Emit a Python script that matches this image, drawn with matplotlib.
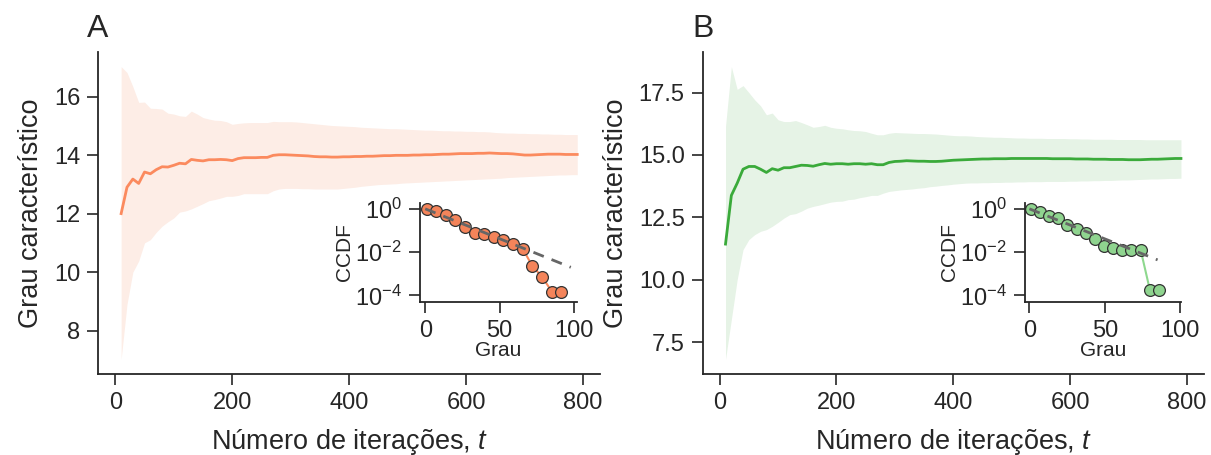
import matplotlib
matplotlib.use("Agg")
import matplotlib.pyplot as plt

plt.rcParams['font.family'] = ['Liberation Sans', 'DejaVu Sans']
plt.rcParams['mathtext.fontset'] = 'custom'
plt.rcParams['mathtext.rm'] = 'Liberation Sans'
plt.rcParams['mathtext.it'] = 'Liberation Sans:italic'
plt.rcParams['axes.unicode_minus'] = True

# iterations
t = list(range(10, 800, 10))

# panel A: mean and band
mean_a = [12.00, 12.90, 13.18, 13.03, 13.42, 13.36, 13.50, 13.60, 13.59, 13.65,
          13.72, 13.70, 13.85, 13.82, 13.80, 13.84, 13.84, 13.85, 13.84, 13.81,
          13.88, 13.91, 13.91, 13.91, 13.92, 13.92, 13.99, 14.01, 14.01, 14.00,
          13.99, 13.98, 13.97, 13.95, 13.94, 13.94, 13.93, 13.93, 13.94, 13.94,
          13.95, 13.95, 13.96, 13.96, 13.97, 13.98, 13.98, 13.99, 13.99, 13.99,
          14.00, 14.00, 14.01, 14.01, 14.02, 14.03, 14.03, 14.04, 14.05, 14.05,
          14.05, 14.06, 14.06, 14.07, 14.06, 14.05, 14.05, 14.04, 14.02, 14.00,
          14.00, 14.01, 14.02, 14.03, 14.03, 14.03, 14.02, 14.02, 14.02]
upper_a = [17.02, 16.82, 16.34, 15.80, 15.81, 15.60, 15.59, 15.57, 15.43, 15.40,
           15.34, 15.32, 15.50, 15.40, 15.28, 15.23, 15.19, 15.18, 15.14, 15.05,
           15.08, 15.10, 15.11, 15.11, 15.11, 15.11, 15.15, 15.14, 15.14, 15.14,
           15.13, 15.11, 15.09, 15.07, 15.05, 15.03, 15.01, 15.00, 14.99, 14.98,
           14.97, 14.95, 14.94, 14.93, 14.92, 14.91, 14.90, 14.90, 14.89, 14.88,
           14.87, 14.86, 14.85, 14.85, 14.84, 14.83, 14.83, 14.82, 14.82, 14.81,
           14.81, 14.80, 14.80, 14.79, 14.77, 14.76, 14.75, 14.75, 14.74, 14.74,
           14.73, 14.73, 14.72, 14.72, 14.71, 14.71, 14.70, 14.70, 14.70]
lower_a = [7.02, 8.90, 10.00, 10.38, 11.00, 11.11, 11.36, 11.57, 11.72, 11.85,
           12.05, 12.09, 12.16, 12.25, 12.34, 12.44, 12.48, 12.53, 12.59, 12.59,
           12.62, 12.68, 12.68, 12.68, 12.68, 12.68, 12.78, 12.84, 12.86, 12.86,
           12.86, 12.85, 12.85, 12.84, 12.84, 12.84, 12.84, 12.84, 12.86, 12.88,
           12.90, 12.93, 12.95, 12.97, 12.99, 13.00, 13.01, 13.02, 13.04, 13.05,
           13.06, 13.07, 13.08, 13.09, 13.10, 13.11, 13.12, 13.13, 13.14, 13.15,
           13.16, 13.17, 13.18, 13.19, 13.20, 13.21, 13.23, 13.24, 13.25, 13.26,
           13.27, 13.28, 13.29, 13.30, 13.31, 13.32, 13.32, 13.33, 13.33]

# panel B: mean and band
mean_b = [11.43, 13.38, 13.87, 14.43, 14.54, 14.54, 14.43, 14.30, 14.45, 14.39,
          14.49, 14.49, 14.54, 14.59, 14.58, 14.55, 14.61, 14.66, 14.63, 14.65,
          14.65, 14.63, 14.65, 14.65, 14.63, 14.65, 14.61, 14.61, 14.70, 14.74,
          14.75, 14.77, 14.76, 14.75, 14.75, 14.74, 14.74, 14.75, 14.77, 14.79,
          14.80, 14.81, 14.82, 14.83, 14.84, 14.84, 14.85, 14.85, 14.85, 14.86,
          14.86, 14.86, 14.86, 14.86, 14.86, 14.86, 14.85, 14.85, 14.85, 14.85,
          14.84, 14.84, 14.84, 14.83, 14.83, 14.83, 14.82, 14.82, 14.82, 14.81,
          14.81, 14.81, 14.82, 14.83, 14.83, 14.84, 14.85, 14.86, 14.86]
upper_b = [16.15, 18.54, 17.63, 17.78, 17.50, 17.21, 16.97, 16.61, 16.68, 16.41,
           16.34, 16.34, 16.38, 16.30, 16.21, 16.11, 16.14, 16.19, 16.11, 16.07,
           16.05, 16.01, 15.98, 15.97, 15.94, 15.87, 15.81, 15.81, 15.87, 15.90,
           15.89, 15.88, 15.87, 15.86, 15.86, 15.85, 15.84, 15.82, 15.80, 15.78,
           15.77, 15.77, 15.76, 15.74, 15.73, 15.72, 15.71, 15.71, 15.70, 15.69,
           15.68, 15.68, 15.67, 15.67, 15.67, 15.66, 15.66, 15.66, 15.66, 15.65,
           15.65, 15.64, 15.64, 15.63, 15.63, 15.63, 15.63, 15.62, 15.62, 15.62,
           15.62, 15.62, 15.61, 15.61, 15.61, 15.61, 15.61, 15.61, 15.61]
lower_b = [6.81, 8.41, 10.01, 11.21, 11.61, 11.81, 11.94, 12.01, 12.14, 12.30,
           12.47, 12.61, 12.65, 12.75, 12.87, 12.94, 12.99, 13.05, 13.11, 13.14,
           13.15, 13.21, 13.23, 13.29, 13.33, 13.38, 13.38, 13.47, 13.54, 13.57,
           13.60, 13.62, 13.64, 13.67, 13.69, 13.73, 13.75, 13.78, 13.80, 13.83,
           13.85, 13.87, 13.88, 13.88, 13.89, 13.89, 13.90, 13.90, 13.91, 13.91,
           13.92, 13.92, 13.93, 13.93, 13.93, 13.94, 13.94, 13.94, 13.94, 13.95,
           13.95, 13.96, 13.96, 13.97, 13.97, 13.98, 13.98, 13.99, 14.00, 14.00,
           14.01, 14.02, 14.03, 14.04, 14.04, 14.05, 14.06, 14.06, 14.07]

yticks_a = [8, 10, 12, 14, 16]
yticks_b = [7.5, 10.0, 12.5, 15.0, 17.5]

# insets: degree distribution (CCDF)
deg_a = [1.2, 7.5, 13.8, 20.3, 26.8, 33.3, 39.6, 46.1, 52.4, 58.9, 65.5, 71.9, 78.5, 85.0, 91.4]
ccdf_a = [1.0, 0.81, 0.52, 0.30, 0.15, 0.078, 0.069, 0.050, 0.038, 0.023, 0.014,
          0.0023, 0.00072, 0.00015, 0.00015]
fit_deg_a = [0, 97.7]
fit_ccdf_a = [1.0, 0.002]

deg_b = [0.9, 6.9, 13.3, 19.2, 25.2, 31.4, 37.3, 43.3, 49.3, 55.4, 61.4, 67.5, 73.8, 79.9, 85.8]
ccdf_b = [1.0, 0.72, 0.49, 0.37, 0.17, 0.12, 0.079, 0.042, 0.020, 0.016, 0.013,
          0.013, 0.0125, 0.00018, 0.00017]
fit_deg_b = [0, 85]
fit_ccdf_b = [1.0, 0.0044]

dark = '#262626'
orange = '#fb8a5e'
green = '#3aaa3a'

fig = plt.figure(figsize=(12.11, 4.55), dpi=100)


def style(ax, fs):
    for s in ['top', 'right']:
        ax.spines[s].set_visible(False)
    for s in ['left', 'bottom']:
        ax.spines[s].set_linewidth(1.3)
        ax.spines[s].set_color(dark)
    ax.tick_params(length=8, width=1.2, color=dark, labelsize=fs,
                   labelcolor=dark, pad=5)


def main_panel(rect, mean, lo, hi, line_c, fill_c, letter, lx, yt, fmt):
    ax = fig.add_axes(rect)
    ax.fill_between(t, lo, hi, color=fill_c, lw=0)
    ax.plot(t, mean, color=line_c, lw=2)
    style(ax, 17)
    ax.set_xticks([0, 200, 400, 600, 800])
    ax.set_yticks(yt)
    ax.set_yticklabels([fmt.format(v) for v in yt])
    ax.set_xlabel('Número de iterações, $t$', fontsize=19.5, color=dark, labelpad=9)
    ax.set_ylabel('Grau característico', fontsize=19.5, color=dark, labelpad=7)
    fig.text(lx, 0.918, letter, fontsize=23, color=dark)
    return ax


def inset(rect, deg, ccdf, fdeg, fccdf, xlim, line_c, mark_c):
    ax = fig.add_axes(rect)
    ax.plot(deg, ccdf, color=line_c, lw=1.5, marker='o', ms=8.5,
            mfc=mark_c, mec='#333333', mew=0.9, zorder=2)
    ax.plot(fdeg, fccdf, color='#666666', lw=2, ls=(0, (4, 3)), zorder=3)
    ax.set_yscale('log')
    ax.set_ylim(10 ** -4.3, 10 ** 0.27)
    ax.set_xlim(*xlim)
    ax.set_yticks([1, 1e-2, 1e-4])
    ax.minorticks_off()
    ax.set_xticks([0, 50, 100])
    ax.patch.set_alpha(0)
    style(ax, 17)
    ax.set_xlabel('Grau', fontsize=15, color=dark, labelpad=-1)
    ax.set_ylabel('CCDF', fontsize=15, color=dark, labelpad=1)
    return ax


main_panel([0.0812, 0.178, 0.4143, 0.7077], mean_a, lower_a, upper_a,
           orange, '#fdede6', 'A', 0.072, yticks_a, '{:.0f}')
main_panel([0.5803, 0.178, 0.4137, 0.7077], mean_b, lower_b, upper_b,
           green, '#e6f3e6', 'B', 0.572, yticks_b, '{:.1f}')

inset([0.3468, 0.3363, 0.1296, 0.2176], deg_a, ccdf_a, fit_deg_a, fit_ccdf_a,
      (-3.5, 101.8), orange, '#f4845a')
inset([0.8464, 0.3363, 0.1288, 0.2176], deg_b, ccdf_b, fit_deg_b, fit_ccdf_b,
      (-2.9, 100.5), '#8ed88e', '#8fd48f')

fig.savefig('out.png', dpi=100)
